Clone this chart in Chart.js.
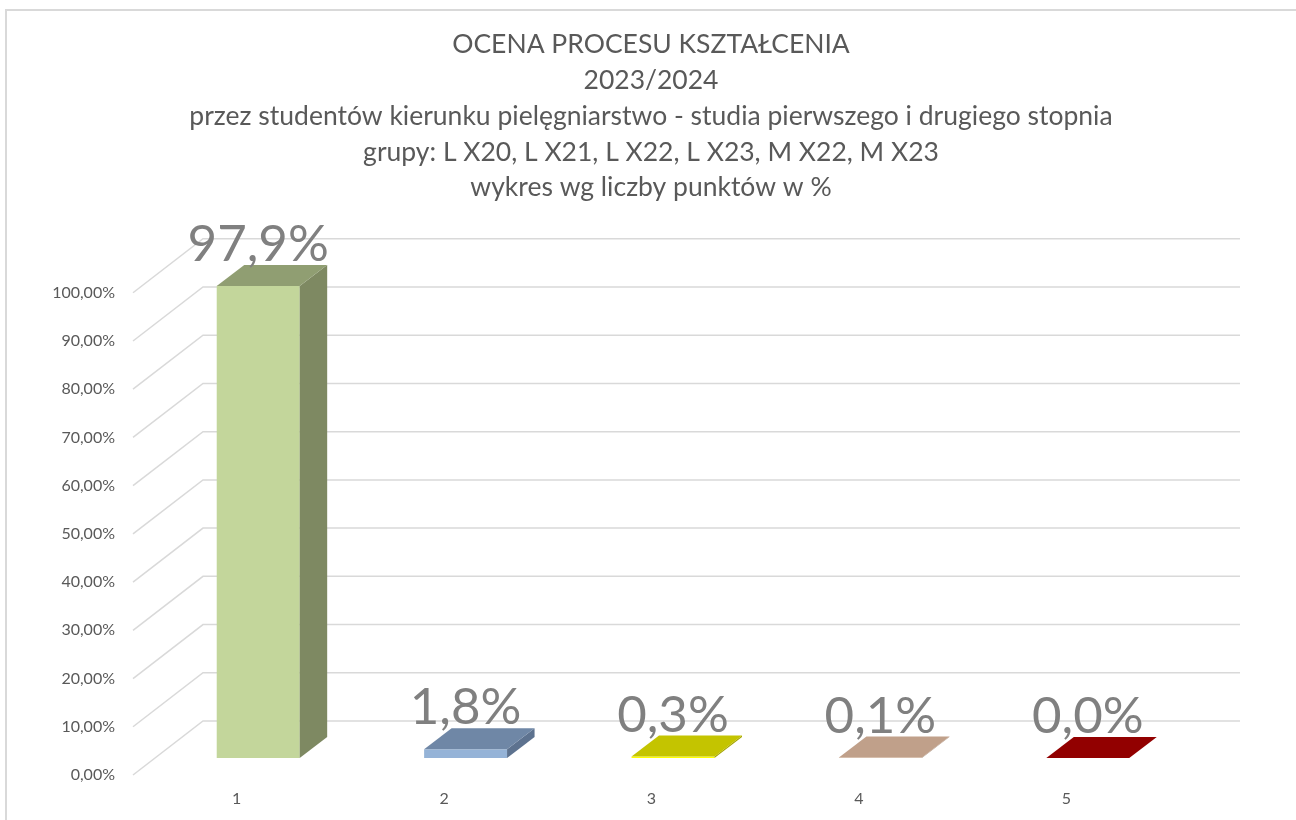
<!DOCTYPE html>
<html>
<head>
<meta charset="utf-8">
<script src="https://cdn.jsdelivr.net/npm/chart.js@4.4.1/dist/chart.umd.min.js"></script>
<style>
  body { margin: 0; background: #fff; }
  canvas { display: block; }
</style>
</head>
<body>
<canvas id="ocenaChart" width="1296" height="820"></canvas>
<script>
// dane z wykresu
var categories = ['1', '2', '3', '4', '5'];
var values = [97.9, 1.8, 0.3, 0.1, 0.0];
var titleLines = [
    'OCENA PROCESU KSZTAŁCENIA',
    '2023/2024',
    'przez studentów kierunku pielęgniarstwo - studia pierwszego i drugiego stopnia',
    'grupy: L X20, L X21, L X22, L X23, M X22, M X23',
    'wykres wg liczby punktów w %'
];
var yMin = 0, yMax = 100, yStep = 10;

// kolory slupkow (przod / gora / bok)
var frontColors = ['#C3D69B', '#95B3D7', '#FFFF00', '#D9B99B', '#C00000'];
var topColors = ['#909E72', '#6F87A6', '#C4C400', '#C0A08A', '#920000'];
var sideColors = ['#7E8962', '#5D728F', '#A5A500', '#A58A76', '#780000'];

// efekt 3D - przesuniecia
var WALL_DX = 70, WALL_DY = -54;   // glebokosc calej sciany
var FRONT_DX = 21.5, FRONT_DY = -17; // przod slupka wzgledem przodu podlogi
var BAR_DX = 27.5, BAR_DY = -21;    // glebokosc slupka

var fmtPct = function (v, d) {
    return v.toFixed(d).replace('.', ',') + '%';
};

var bar3d = {
    id: 'bar3d',
    beforeDraw: function (chart) {
        var ctx = chart.ctx;
        ctx.save();
        ctx.fillStyle = '#fff';
        ctx.fillRect(0, 0, chart.width, chart.height);
        ctx.strokeStyle = '#d9d9d9';
        ctx.lineWidth = 2;
        ctx.strokeRect(6, 10, chart.width + 20, chart.height + 20);
        ctx.restore();
    },
    beforeDatasetsDraw: function (chart) {
        // siatka: sciana boczna + tylna
        var ctx = chart.ctx, area = chart.chartArea, ys = chart.scales.y;
        ctx.save();
        ctx.strokeStyle = '#d9d9d9';
        ctx.lineWidth = 1.5;
        ys.ticks.forEach(function (t) {
            var y = ys.getPixelForValue(t.value);
            ctx.beginPath();
            ctx.moveTo(area.left, y);
            ctx.lineTo(area.left + WALL_DX, y + WALL_DY);
            ctx.lineTo(area.right + WALL_DX, y + WALL_DY);
            ctx.stroke();
        });
        ctx.restore();
    },
    beforeDatasetDraw: function () {
        return false;
    },
    afterDatasetsDraw: function (chart) {
        var ctx = chart.ctx;
        var meta = chart.getDatasetMeta(0);
        ctx.save();
        meta.data.forEach(function (el, i) {
            var x0 = el.x - el.width / 2 + FRONT_DX;
            var x1 = el.x + el.width / 2 + FRONT_DX;
            var yT = el.y + FRONT_DY;
            var yB = el.base + FRONT_DY;
            // przod
            ctx.fillStyle = frontColors[i];
            if (yB - yT > 0.3) ctx.fillRect(x0, yT, x1 - x0, yB - yT);
            // bok
            ctx.fillStyle = sideColors[i];
            ctx.beginPath();
            ctx.moveTo(x1, yT);
            ctx.lineTo(x1 + BAR_DX, yT + BAR_DY);
            ctx.lineTo(x1 + BAR_DX, yB + BAR_DY);
            ctx.lineTo(x1, yB);
            ctx.closePath();
            ctx.fill();
            // gora
            ctx.fillStyle = topColors[i];
            ctx.beginPath();
            ctx.moveTo(x0, yT);
            ctx.lineTo(x1, yT);
            ctx.lineTo(x1 + BAR_DX, yT + BAR_DY);
            ctx.lineTo(x0 + BAR_DX, yT + BAR_DY);
            ctx.closePath();
            ctx.fill();
        });
        // etykiety danych
        ctx.fillStyle = '#808080';
        ctx.font = '51px Lato';
        ctx.textAlign = 'center';
        ctx.textBaseline = 'alphabetic';
        meta.data.forEach(function (el, i) {
            ctx.fillText(fmtPct(values[i], 1), el.x + FRONT_DX, el.y + FRONT_DY + BAR_DY - 4);
        });
        ctx.restore();
    }
};

var ctx = document.getElementById('ocenaChart').getContext('2d');
window.ocenaChart = new Chart(ctx, {
    type: 'bar',
    data: {
        labels: categories,
        datasets: [{
            label: 'Ocena',
            data: values,
            backgroundColor: frontColors,
            categoryPercentage: 1,
            barPercentage: 0.4
        }]
    },
    options: {
        responsive: false,
        animation: false,
        layout: { padding: { top: 10, left: 6, right: 0, bottom: 0 } },
        plugins: {
            legend: { display: false },
            tooltip: { enabled: false },
            title: {
                display: true,
                text: titleLines,
                color: '#595959',
                font: { family: 'Lato', size: 26.5, weight: 'normal', lineHeight: 35.75 / 26.5 },
                padding: { top: 17, bottom: 87 }
            }
        },
        scales: {
            x: {
                grid: { display: false, drawTicks: false },
                border: { display: false },
                ticks: { color: '#595959', font: { family: 'Lato', size: 16 }, padding: 14 },
                afterFit: function (s) { s.height = 45; }
            },
            y: {
                min: yMin,
                max: yMax,
                grid: { display: false, drawTicks: false },
                border: { display: false },
                ticks: {
                    stepSize: yStep,
                    color: '#595959',
                    font: { family: 'Lato', size: 16 },
                    padding: 18,
                    callback: function (v) { return fmtPct(v, 2); }
                },
                afterFit: function (s) { s.width = 127; }
            },
            yRight: {
                position: 'right',
                grid: { display: false, drawTicks: false },
                border: { display: false },
                ticks: { display: false },
                afterFit: function (s) { s.width = 126; }
            }
        }
    },
    plugins: [bar3d]
});
</script>
</body>
</html>
